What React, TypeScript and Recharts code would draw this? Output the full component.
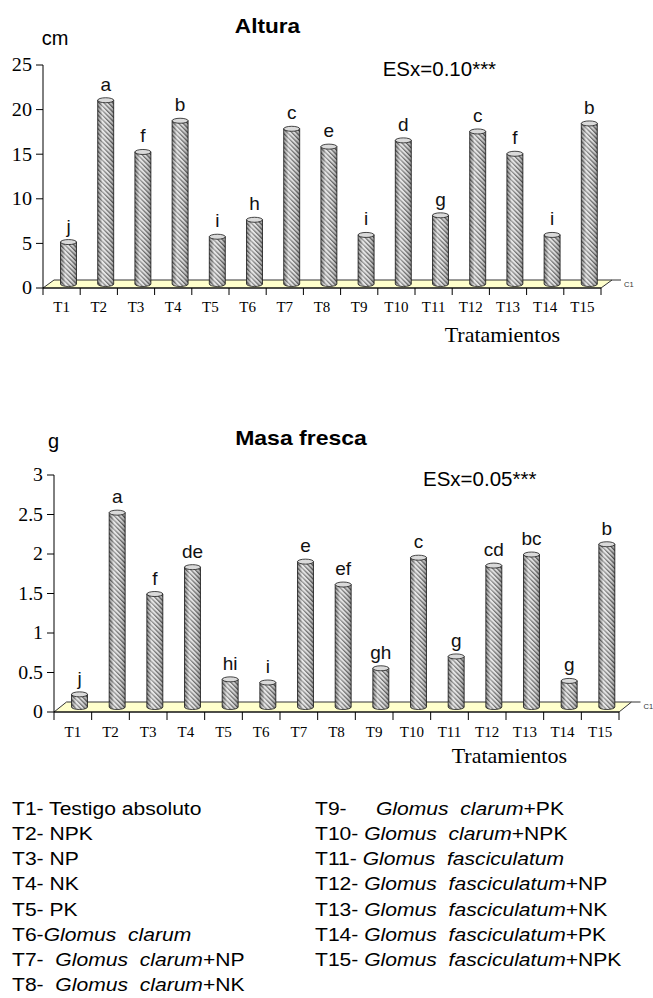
import { Bar, BarChart, ReferenceLine, XAxis, YAxis } from "recharts";

const SANS = "'Liberation Sans', Arial, Helvetica, sans-serif";
const SERIF = "'Liberation Serif', 'Times New Roman', serif";

const tratamientos = ["T1", "T2", "T3", "T4", "T5", "T6", "T7", "T8", "T9", "T10", "T11", "T12", "T13", "T14", "T15"];

// Altura (cm)
const altura = [4.7, 20.6, 14.8, 18.3, 5.3, 7.2, 17.4, 15.4, 5.5, 16.1, 7.7, 17.1, 14.6, 5.5, 18.0];
const alturaLetras = ["j", "a", "f", "b", "i", "h", "c", "e", "i", "d", "g", "c", "f", "i", "b"];
const alturaTicks = [0, 5, 10, 15, 20, 25];

// Masa fresca (g)
const masaFresca = [0.16, 2.46, 1.43, 1.77, 0.35, 0.31, 1.84, 1.55, 0.49, 1.89, 0.64, 1.79, 1.93, 0.33, 2.06];
const masaLetras = ["j", "a", "f", "de", "hi", "i", "e", "ef", "gh", "c", "g", "cd", "bc", "g", "b"];
const masaTicks = [0, 0.5, 1, 1.5, 2, 2.5, 3];

// leyenda: [prefijo, parte en cursiva, sufijo]
const leyendaIzq = [
  ["T1- Testigo absoluto", "", ""],
  ["T2- NPK", "", ""],
  ["T3- NP", "", ""],
  ["T4- NK", "", ""],
  ["T5- PK", "", ""],
  ["T6-", "Glomus  clarum", ""],
  ["T7-  ", "Glomus  clarum", "+NP"],
  ["T8-  ", "Glomus  clarum", "+NK"],
];
const leyendaDer = [
  ["T9-     ", "Glomus  clarum", "+PK"],
  ["T10- ", "Glomus  clarum", "+NPK"],
  ["T11- ", "Glomus  fasciculatum", ""],
  ["T12- ", "Glomus  fasciculatum", "+NP"],
  ["T13- ", "Glomus  fasciculatum", "+NK"],
  ["T14- ", "Glomus  fasciculatum", "+PK"],
  ["T15- ", "Glomus  fasciculatum", "+NPK"],
];

const alturaData = tratamientos.map((t, i) => ({ name: t, valor: altura[i], letra: alturaLetras[i] }));
const masaData = tratamientos.map((t, i) => ({ name: t, valor: masaFresca[i], letra: masaLetras[i] }));

function makeCylinder(dx: number, dy: number) {
  return function Cylinder(props: any) {
    const { x, y, width, height } = props;
    if (x == null || !width) return null;
    const letra = props.letra ?? props.payload?.letra;
    const rx = width / 2;
    const ry = 2.5;
    const left = x + dx;
    const right = left + width;
    const cx = left + rx;
    const top = y - dy;
    const bottom = y + height - dy;
    const body = `M${left},${top} L${left},${bottom} A${rx},${ry} 0 0 0 ${right},${bottom} L${right},${top} Z`;
    return (
      <g>
        <defs>
          <pattern id="hatch" patternUnits="userSpaceOnUse" width="3.2" height="3.2" patternTransform="rotate(-45)">
            <rect width="3.2" height="3.2" fill="#dcdcdc" />
            <rect width="1.25" height="3.2" fill="#585858" />
          </pattern>
          <linearGradient id="shade" x1="0" x2="1" y1="0" y2="0">
            <stop offset="0" stopColor="#000" stopOpacity={0.28} />
            <stop offset="0.3" stopColor="#fff" stopOpacity={0.4} />
            <stop offset="0.6" stopColor="#fff" stopOpacity={0.12} />
            <stop offset="1" stopColor="#000" stopOpacity={0.32} />
          </linearGradient>
        </defs>
        <path d={body} fill="url(#hatch)" />
        <path d={body} fill="url(#shade)" stroke="#1a1a1a" strokeWidth={0.8} />
        <ellipse cx={cx} cy={top} rx={rx} ry={ry} fill="#dadada" stroke="#1a1a1a" strokeWidth={0.8} />
        <text x={cx} y={top - ry - 7} textAnchor="middle" fontFamily={SANS} fontSize={19} fill="#111">
          {letra}
        </text>
      </g>
    );
  };
}

function makeFloor(dx: number, dy: number) {
  return function Floor(props: any) {
    const { x1, x2, y1 } = props;
    if (x1 == null || x2 == null) return null;
    const pts = `${x1},${y1} ${x2},${y1} ${x2 + dx},${y1 - dy} ${x1 + dx},${y1 - dy}`;
    return (
      <g>
        <polygon points={pts} fill="#ffffcc" stroke="#333" strokeWidth={1} />
        <line x1={x2 + dx} y1={y1 - dy} x2={x2 + dx + 9} y2={y1 - dy} stroke="#333" />
        <text x={x2 + dx + 12} y={y1 - dy + 7} fontFamily={SANS} fontSize={7.5} fill="#333">
          C1
        </text>
      </g>
    );
  };
}

function makeXTick(tickLen: number, labelDy: number) {
  return function XTick(props: any) {
    const { x, y, payload, index, width, visibleTicksCount } = props;
    const band = width / visibleTicksCount;
    const edges = Number.isFinite(band) ? [x + band / 2] : [];
    if (index === 0 && Number.isFinite(band)) edges.push(x - band / 2);
    return (
      <g>
        {edges.map((ex, k) => (
          <line key={k} x1={ex} y1={y} x2={ex} y2={y + tickLen} stroke="#000" />
        ))}
        <text x={x} y={y + labelDy} textAnchor="middle" fontFamily={SERIF} fontSize={15} fill="#000">
          {payload.value}
        </text>
      </g>
    );
  };
}

function makeYTick(stretch: number) {
  return function YTick(props: any) {
    const { x, y, payload } = props;
    return (
      <g transform={`translate(${x},${y}) scale(${stretch},1)`}>
        <text textAnchor="end" dy="0.35em" fontFamily={SERIF} fontSize={18} fill="#000">
          {payload.value}
        </text>
      </g>
    );
  };
}

function Leyenda({ rows, x }: { rows: string[][]; x: number }) {
  return (
    <>
      {rows.map((r, i) => (
        <g key={i} transform={`translate(${x},${815 + 25.15 * i}) scale(1.14,1)`}>
          <text fontFamily={SANS} fontSize={18.5} fill="#000" style={{ whiteSpace: "pre" }}>
            {r[0]}
            <tspan fontStyle="italic">{r[1]}</tspan>
            {r[2]}
          </text>
        </g>
      ))}
    </>
  );
}

export default function App() {
  return (
    <div style={{ position: "absolute", left: 0, top: 0, width: 653, height: 998, background: "#fff", overflow: "hidden" }}>
      <div style={{ position: "absolute", left: 0, top: 0 }}>
        <BarChart width={653} height={360} data={alturaData} margin={{ top: 65, right: 52, left: 0, bottom: 0 }}>
          <XAxis
            dataKey="name"
            height={72}
            interval={0}
            tickSize={0}
            tickMargin={0}
            tickLine={false}
            axisLine={{ stroke: "#000" }}
            tick={makeXTick(7, 23.7)}
          />
          <YAxis
            type="number"
            domain={[0, 25]}
            ticks={alturaTicks}
            interval={0}
            width={43}
            tickSize={7}
            tickMargin={4}
            axisLine={{ stroke: "#000" }}
            tickLine={{ stroke: "#000" }}
            tick={makeYTick(1.12)}
          />
          <ReferenceLine y={0} shape={makeFloor(11, 8)} zIndex={-50} />
          <Bar dataKey="valor" barSize={16} shape={makeCylinder(6.5, 4)} isAnimationActive={false} />
        </BarChart>
      </div>

      <div style={{ position: "absolute", left: 0, top: 380 }}>
        <BarChart width={653} height={400} data={masaData} margin={{ top: 95, right: 34, left: 0, bottom: 0 }}>
          <XAxis
            dataKey="name"
            height={68}
            interval={0}
            tickSize={0}
            tickMargin={0}
            tickLine={false}
            axisLine={{ stroke: "#000" }}
            tick={makeXTick(8, 24.7)}
          />
          <YAxis
            type="number"
            domain={[0, 3]}
            ticks={masaTicks}
            interval={0}
            width={54}
            tickSize={7}
            tickMargin={4}
            axisLine={{ stroke: "#000" }}
            tickLine={{ stroke: "#000" }}
            tick={makeYTick(1.1)}
          />
          <ReferenceLine y={0} shape={makeFloor(12.5, 10)} zIndex={-50} />
          <Bar dataKey="valor" barSize={16} shape={makeCylinder(6.5, 5)} isAnimationActive={false} />
        </BarChart>
      </div>

      <svg width={653} height={998} style={{ position: "absolute", left: 0, top: 0, pointerEvents: "none" }}>
        <g transform="translate(267.5,33) scale(1.13,1)">
          <text textAnchor="middle" fontFamily={SANS} fontWeight="bold" fontSize={20} fill="#000">Altura</text>
        </g>
        <text x={41.7} y={45} fontFamily={SANS} fontSize={20} fill="#000">cm</text>
        <text x={382.7} y={76} fontFamily={SANS} fontSize={20.5} fill="#000">ESx=0.10***</text>
        <text x={560} y={341.7} textAnchor="end" fontFamily={SERIF} fontSize={22} fill="#000">Tratamientos</text>

        <g transform="translate(301,445) scale(1.15,1)">
          <text textAnchor="middle" fontFamily={SANS} fontWeight="bold" fontSize={20} fill="#000">Masa fresca</text>
        </g>
        <text x={48} y={448} fontFamily={SANS} fontSize={20} fill="#000">g</text>
        <text x={423} y={486} fontFamily={SANS} fontSize={20.5} fill="#000">ESx=0.05***</text>
        <text x={567} y={763} textAnchor="end" fontFamily={SERIF} fontSize={22} fill="#000">Tratamientos</text>

        <Leyenda rows={leyendaIzq} x={12} />
        <Leyenda rows={leyendaDer} x={315} />
      </svg>
    </div>
  );
}
